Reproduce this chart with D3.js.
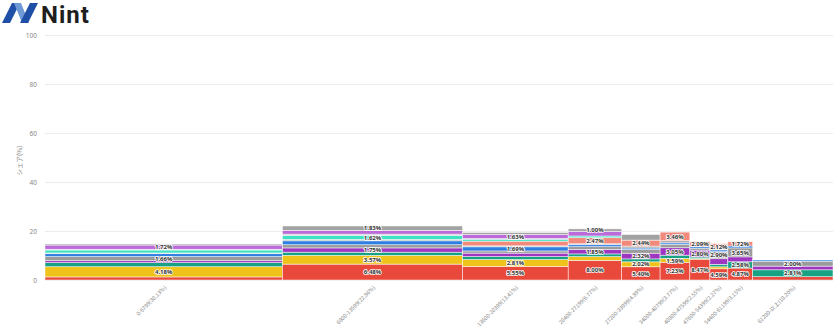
<!DOCTYPE html>
<html><head><meta charset="utf-8">
<script src="https://cdn.jsdelivr.net/npm/d3@7/dist/d3.min.js"></script>
<style>
html,body{margin:0;padding:0;background:#fff;}
svg{display:block;font-family:"Noto Sans CJK JP","Noto Sans",sans-serif;}
</style></head>
<body><svg id="chart" width="836" height="330"></svg>
<script>
// ---- data ----
const categories = ["0-6799(30.13%)","6800-13599(22.86%)","13600-20399(13.41%)","20400-27199(6.77%)","27200-33999(4.89%)","34000-40799(3.77%)","40800-47599(2.55%)","47600-54399(2.27%)","54400-61199(3.15%)","61200-以上(10.20%)"];
const marketShare = [30.13, 22.86, 13.41, 6.77, 4.89, 3.77, 2.55, 2.27, 3.15, 10.20];
const yTicks = [0, 20, 40, 60, 80, 100];
const seriesNames = ["red","yellow","teal","purple","grayA","blue","grayB","salmon","turquoise","grayC","violet","grayTop"];
const seriesColors = ["#e8493b","#f0c31a","#17a383","#9e36c2","#9b9b9b","#2f7fe3","#b0b0b0","#f2897b","#3fe3c3","#bdbdbd","#bb6bd9","#a3a3a3"];
const red       = [1.25, 6.48, 5.55, 8.00, 5.40, 7.23, 8.47, 4.59, 4.87, 1.35];
const yellow    = [4.18, 3.57, 2.81, 1.55, 2.02, 1.59, 0.30, 0.80, 0.00, 0.00];
const teal      = [1.65, 1.30, 1.20, 1.10, 1.20, 1.30, 0.60, 1.00, 2.58, 2.81];
const purple    = [0.80, 1.75, 1.40, 1.85, 2.32, 3.05, 2.80, 2.30, 2.00, 1.50];
const grayA     = [1.66, 1.30, 0.90, 1.10, 1.50, 1.40, 0.80, 2.90, 3.65, 2.00];
const blue      = [1.20, 1.60, 1.69, 0.80, 0.60, 0.60, 0.60, 0.70, 0.80, 0.50];
const grayB     = [0.30, 0.60, 0.40, 0.40, 0.80, 0.90, 0.00, 0.40, 0.00, 0.00];
const salmon    = [0.00, 0.00, 1.90, 2.47, 2.44, 3.46, 2.09, 2.12, 1.72, 0.00];
const turquoise = [1.20, 1.62, 0.80, 0.70, 0.00, 0.00, 0.00, 0.00, 0.00, 0.00];
const grayC     = [0.30, 0.50, 0.30, 0.00, 0.00, 0.00, 0.00, 0.00, 0.00, 0.00];
const violet    = [1.72, 1.50, 1.63, 1.90, 0.00, 0.00, 0.00, 0.00, 0.00, 0.00];
const grayTop   = [0.45, 1.83, 0.80, 1.00, 2.30, 0.00, 0.00, 0.00, 0.00, 0.00];
const seriesValues = [red, yellow, teal, purple, grayA, blue, grayB, salmon, turquoise, grayC, violet, grayTop];
// which data labels are visible in each column
const visibleLabels = [
  ["yellow","grayA","violet"],
  ["red","yellow","purple","turquoise","grayTop"],
  ["red","yellow","blue","violet"],
  ["red","purple","salmon","grayTop"],
  ["red","yellow","purple","salmon"],
  ["red","yellow","purple","salmon"],
  ["red","purple","salmon"],
  ["red","grayA","salmon"],
  ["red","teal","grayA","salmon"],
  ["teal","grayA"]
];

// ---- layout ----
const svg = d3.select("#chart");
const m = {left: 45, right: 3, top: 35, bottom: 50};
const W = 836, H = 330;
const plotW = W - m.left - m.right, plotH = H - m.top - m.bottom;

const total = d3.sum(marketShare);
const cum = [0];
marketShare.forEach((v,i)=>cum.push(cum[i]+v));
const x = d3.scaleLinear().domain([0,total]).range([m.left, m.left+plotW]);
const y = d3.scaleLinear().domain([0,100]).range([m.top+plotH, m.top]);

// logo
const logo = svg.append("g").attr("transform","translate(2,3)");
logo.append("path").attr("d","M0,20 L10,0 L18,0 L8,20 Z").attr("fill","#1f4fa6");
logo.append("path").attr("d","M12,0 L19,0 L27,20 L20,20 Z").attr("fill","#6f9ad8");
logo.append("path").attr("d","M28,0 L36,0 L26,20 L18,20 Z").attr("fill","#1f4fa6");
svg.append("text").attr("x",41).attr("y",23).attr("font-family","Roboto, 'Noto Sans', sans-serif")
  .attr("font-weight",700).attr("font-size",24).attr("letter-spacing",1).attr("fill","#1e1e1e").text("Nint");

// grid
svg.append("g").selectAll("line").data(yTicks).join("line")
  .attr("x1",m.left).attr("x2",m.left+plotW)
  .attr("y1",d=>Math.round(y(d))+0.5).attr("y2",d=>Math.round(y(d))+0.5)
  .attr("stroke","#ececec").attr("stroke-width",1);

// y axis
const yAxis = d3.axisLeft(y).tickValues(yTicks).tickSize(0).tickPadding(8);
const ya = svg.append("g").attr("transform",`translate(${m.left},0)`).call(yAxis);
ya.select(".domain").remove();
ya.selectAll("text").attr("font-size",6.5).attr("fill","#888").attr("font-family","'Noto Sans',sans-serif");

svg.append("text").attr("transform",`translate(22,${y(50)+3}) rotate(-90)`)
  .attr("text-anchor","middle").attr("font-size",6.5).attr("fill","#888").text("シェア(%)");

// bars
const segs = [];
categories.forEach((c,i)=>{
  let base = 0;
  seriesValues.forEach((vals,s)=>{
    const v = vals[i];
    if (v>0) segs.push({i, s, v, y0: base, y1: base+v});
    base += v;
  });
});
const g = svg.append("g");
g.selectAll("rect").data(segs).join("rect")
  .attr("x",d=>x(cum[d.i]))
  .attr("width",d=>x(cum[d.i+1])-x(cum[d.i]))
  .attr("y",d=>y(d.y1))
  .attr("height",d=>y(d.y0)-y(d.y1))
  .attr("fill",d=>seriesColors[d.s])
  .attr("stroke","#ffffff").attr("stroke-opacity",0.7).attr("stroke-width",0.7);

// data labels
const lab = segs.filter(d=>visibleLabels[d.i].includes(seriesNames[d.s]));
g.selectAll("text").data(lab).join("text")
  .attr("x",d=>(x(cum[d.i])+x(cum[d.i+1]))/2)
  .attr("y",d=>(y(d.y0)+y(d.y1))/2+2.2)
  .attr("text-anchor","middle")
  .attr("font-size",6).attr("font-weight",700)
  .attr("font-family","'Noto Sans',sans-serif")
  .attr("fill","#333").attr("stroke","#fff").attr("stroke-width",1.6)
  .attr("stroke-linejoin","round").attr("paint-order","stroke")
  .text(d=>d.v.toFixed(2)+"%");

// x labels
svg.append("g").selectAll("text").data(categories).join("text")
  .attr("transform",(d,i)=>`translate(${(x(cum[i])+x(cum[i+1]))/2+3},${m.top+plotH+8}) rotate(-45)`)
  .attr("text-anchor","end").attr("font-size",5.5).attr("fill","#888")
  .attr("font-family","'Noto Sans CJK JP','Noto Sans',sans-serif")
  .text(d=>d);
</script></body></html>
